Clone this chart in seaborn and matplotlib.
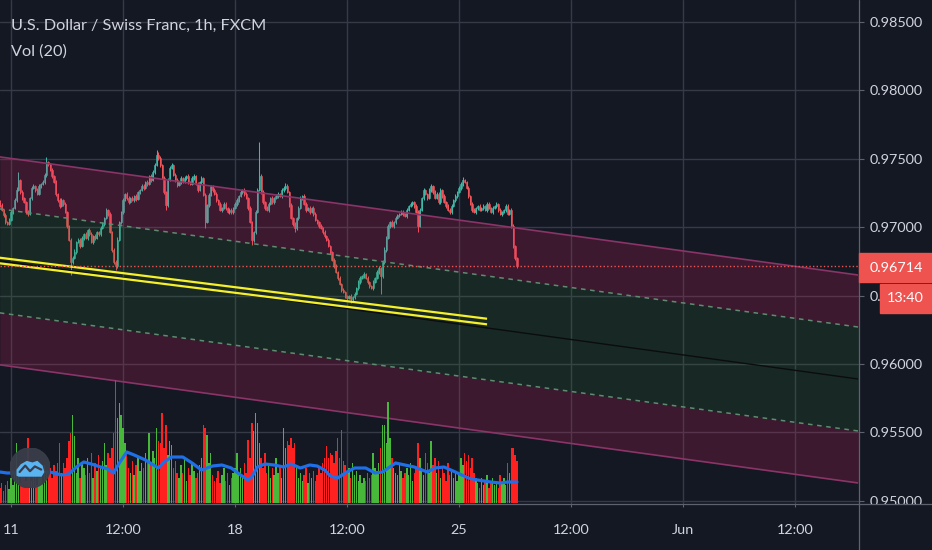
import numpy as np
import matplotlib
matplotlib.use("Agg")
import matplotlib.pyplot as plt
import seaborn as sns
from matplotlib.patches import Rectangle, Circle, Polygon

# ---- data (USD/CHF 1h, bar 0 = 11 May 00:00, trading hours only) ----
first_bar = -6
first_open = 97190  # price * 1e5

close_pts = [
    97162, 97126, 97089, 97038, 97024, 97053,
    97111, 97141, 97199, 97272, 97345, 97257, 97214, 97184, 97111, 97097,
    97214, 97287, 97301, 97272, 97243, 97301, 97316, 97331, 97382, 97477,
    97462, 97418, 97374, 97331, 97243, 97199, 97155, 97199, 97170, 97111,
    97009, 96907, 96746, 96775, 96819, 96892, 96907, 96863, 96921, 96950,
    96921, 96980, 96950, 96892, 96936, 96921, 96965, 96950, 96994, 97024,
    97067, 97126, 97097, 96965, 96833, 96746, 96717, 96907, 97038, 97111,
    97199, 97243, 97214, 97184, 97214, 97199, 97228, 97206, 97257, 97272,
    97301, 97287, 97331, 97316, 97374, 97345, 97404, 97455, 97528, 97506,
    97455, 97360, 97257, 97162, 97345, 97433, 97455, 97382, 97345, 97309,
    97331, 97360, 97331, 97360, 97374, 97331, 97316, 97360, 97374, 97316,
    97272, 97331, 97360, 97236, 97038, 97162, 97236, 97301, 97272, 97243,
    97199, 97170, 97126, 97141, 97170, 97141, 97111, 97126, 97111, 97141,
    97170, 97199, 97228, 97257, 97272, 97243, 97214, 97141, 97038, 96907,
    96965, 97111, 97272, 97374, 97257, 97184, 97141, 97126, 97170, 97214,
    97184, 97214, 97228, 97243, 97228, 97272, 97287, 97301, 97257, 97162,
    97067, 97024, 96994, 97067, 97141, 97214, 97228, 97170, 97126, 97141,
    97111, 97141, 97097, 97053, 97038, 97009, 96994, 96965, 96936, 96907,
    96863, 96819, 96760, 96717, 96673, 96629, 96585, 96541, 96526, 96497,
    96483, 96497, 96475, 96490, 96512, 96556, 96600, 96629, 96643, 96658,
    96629, 96600, 96570, 96556, 96600, 96629, 96673, 96702, 96643, 96746,
    96833, 96921, 97009, 97038, 97009, 97038, 97067, 97089, 97097, 97111,
    97097, 97082, 97126, 97155, 97170, 97184, 97155, 97111, 97009, 97126,
    97214, 97272, 97243, 97214, 97272, 97301, 97257, 97214, 97243, 97184,
    97272, 97228, 97184, 97155, 97126, 97111, 97155, 97199, 97228, 97257,
    97287, 97316, 97345, 97331, 97287, 97228, 97170, 97126, 97111, 97141,
    97155, 97126, 97141, 97155, 97126, 97170, 97141, 97111, 97141, 97155,
    97170, 97126, 97097, 97111, 97126, 97155, 97097, 97126, 97009, 96863, 96775, 96714,
]

# wick lengths above / below the body (price * 1e5)
wick_up = [
    10, 14, 8, 12, 6, 18,
    12, 9, 15, 20, 58, 10, 14, 8, 11, 16,
    9, 13, 18, 7, 12, 15, 10, 14, 12, 37,
    8, 11, 16, 9, 13, 10, 18, 12, 7, 14,
    10, 8, 15, 12, 20, 9, 11, 14, 16, 10,
    13, 8, 12, 18, 9, 14, 11, 7, 15, 12,
    10, 16, 9, 13, 8, 14, 12, 18, 10, 11,
    15, 9, 13, 12, 8, 16, 10, 14, 11, 9,
    13, 17, 8, 12, 10, 15, 11, 14, 37, 20,
    12, 9, 14, 10, 16, 11, 13, 8, 15, 12,
    10, 14, 9, 13, 11, 16, 8, 12, 15, 10,
    14, 9, 12, 10, 13, 8, 15, 11, 9, 14,
    12, 10, 16, 8, 13, 11, 9, 15, 12, 10,
    14, 11, 8, 13, 10, 16, 12, 9, 14, 11,
    10, 15, 13, 249, 18, 12, 9, 14, 11, 10,
    13, 8, 16, 12, 10, 14, 11, 22, 13, 9,
    12, 10, 14, 9, 15, 11, 8, 13, 12, 10,
    16, 9, 12, 14, 10, 8, 13, 11, 15, 9,
    12, 10, 8, 14, 11, 9, 13, 10, 12, 8,
    11, 9, 13, 10, 12, 8, 14, 11, 9, 12,
    10, 13, 9, 11, 14, 10, 12, 16, 9, 11,
    20, 15, 12, 10, 14, 9, 13, 11, 10, 12,
    14, 9, 12, 10, 13, 11, 9, 15, 12, 14,
    10, 13, 11, 9, 15, 12, 10, 14, 11, 13,
    12, 10, 14, 9, 13, 11, 12, 10, 15, 9,
    12, 14, 22, 11, 9, 13, 10, 12, 14, 10,
    11, 13, 9, 12, 10, 14, 11, 9, 13, 10,
    12, 10, 14, 11, 9, 13, 12, 10, 14, 11, 9, 8,
]
wick_dn = [
    12, 9, 14, 18, 10, 8,
    11, 14, 9, 12, 10, 15, 13, 8, 12, 16,
    10, 12, 9, 14, 11, 8, 13, 10, 15, 12,
    14, 9, 12, 10, 16, 11, 13, 9, 12, 10,
    13, 10, 95, 12, 9, 14, 11, 13, 10, 12,
    9, 14, 11, 10, 13, 12, 8, 15, 11, 10,
    12, 10, 14, 9, 11, 13, 30, 12, 10, 14,
    11, 9, 13, 12, 10, 8, 14, 11, 9, 13,
    10, 12, 9, 14, 11, 13, 10, 12, 9, 11,
    14, 10, 12, 37, 13, 9, 11, 10, 14, 12,
    9, 13, 11, 10, 12, 14, 9, 11, 13, 10,
    12, 10, 14, 11, 44, 9, 13, 10, 12, 11,
    13, 9, 11, 12, 10, 14, 9, 12, 11, 13,
    10, 12, 14, 9, 11, 13, 10, 12, 9, 37,
    12, 14, 10, 9, 13, 11, 12, 10, 14, 9,
    11, 13, 9, 12, 10, 14, 11, 13, 10, 12,
    9, 12, 30, 11, 13, 10, 12, 9, 14, 11,
    13, 10, 12, 9, 11, 14, 10, 13, 12, 9,
    11, 12, 10, 14, 9, 13, 11, 12, 10, 13,
    12, 9, 30, 11, 13, 10, 14, 12, 9, 11,
    10, 13, 12, 9, 14, 11, 10, 13, 130, 12,
    14, 11, 9, 12, 10, 13, 11, 9, 12, 10,
    12, 10, 13, 11, 9, 14, 12, 10, 44, 11,
    9, 12, 11, 13, 10, 12, 14, 9, 11, 13,
    11, 13, 10, 12, 9, 11, 13, 10, 12, 14,
    10, 12, 14, 9, 11, 13, 10, 12, 9, 11,
    13, 9, 11, 12, 10, 14, 11, 9, 12, 10,
    11, 13, 10, 12, 9, 14, 11, 10, 13, 18, 12, 10,
]

volume = [
    15, 20, 12, 18, 22, 14,
    25, 18, 30, 60, 35, 20, 28, 40, 22, 65,
    30, 22, 35, 28, 18, 25, 32, 20, 38, 30,
    30, 35, 25, 38, 32, 40, 60, 30, 40, 35,
    45, 62, 70, 88, 67, 30, 45, 25, 40, 35,
    28, 45, 30, 50, 25, 40, 32, 48, 35, 42,
    60, 38, 50, 45, 55, 70, 123, 85, 100, 88,
    75, 60, 48, 35, 30, 42, 28, 38, 45, 32,
    40, 35, 50, 42, 70, 38, 52, 45, 75, 62,
    60, 90, 55, 78, 48, 62, 58, 35, 42, 30,
    25, 38, 30, 45, 22, 35, 28, 40, 32, 25,
    30, 38, 45, 78, 75, 68, 40, 50, 28, 22,
    25, 32, 20, 28, 35, 22, 30, 18, 25, 30,
    35, 50, 28, 35, 25, 40, 30, 63, 45, 80,
    72, 90, 80, 60, 45, 35, 50, 30, 40, 25,
    35, 28, 45, 30, 38, 25, 75, 55, 62, 58,
    65, 55, 60, 35, 25, 30, 22, 28, 35, 20,
    30, 25, 32, 22, 28, 35, 30, 40, 45, 57,
    45, 50, 48, 40, 52, 65, 45, 73, 42, 38,
    30, 35, 25, 40, 28, 32, 22, 28, 20, 25,
    22, 30, 25, 28, 50, 35, 32, 40, 55, 78,
    78, 60, 101, 65, 45, 35, 30, 28, 40, 32,
    25, 30, 35, 28, 40, 22, 30, 35, 60, 45,
    35, 28, 50, 40, 30, 62, 38, 45, 30, 42,
    25, 35, 30, 22, 40, 28, 32, 25, 30, 22,
    28, 45, 38, 50, 42, 48, 35, 45, 30, 25,
    20, 15, 25, 18, 22, 28, 15, 20, 25, 18,
    22, 15, 28, 20, 25, 18, 40, 30, 55, 55, 48, 42,
]

# Vol (20) moving average, read at these bars
ma_bar = [-6, -2, 21, 27, 31, 35, 39, 43, 48, 52, 55, 58, 62, 66, 72, 79, 82, 86, 92, 97,
          102, 108, 113, 118, 123, 127, 129, 132, 136, 141, 146, 150, 155, 160, 164, 168,
          171, 175, 179, 184, 190, 195, 199, 206, 211, 216, 223, 227, 232, 238, 245, 250,
          257, 262, 266, 271]
ma_val = [31, 30, 31, 28, 29, 36, 41, 39, 36, 34, 30, 40, 51, 48, 43, 35, 41, 46, 46, 40,
          33, 37, 38, 35, 28, 23, 26, 36, 39, 38, 36, 39, 35, 38, 37, 33, 27, 25, 30, 35,
          35, 30, 31, 40, 38, 36, 31, 35, 36, 31, 25, 23, 21, 20, 21, 21]

# regression channel (mid line + deviations)
chan_bar = [-6, 454]
chan_mid = [0.96754, 0.95890]
dev_inner = 0.0038
dev_outer = 0.0076

# hand drawn double trend line
trend_bar = [-6, 255]
trend_upper = [0.96777, 0.96331]
trend_lower = [0.96736, 0.96290]

last_price = 0.96714
countdown = "13:40"

price_ticks = [0.950, 0.955, 0.960, 0.965, 0.970, 0.975, 0.980, 0.985]
time_tick_bars = [0, 60, 120, 180, 240, 300, 360, 420]
time_tick_labels = ["11", "12:00", "18", "12:00", "25", "12:00", "Jun", "12:00"]

title = "U.S. Dollar / Swiss Franc, 1h, FXCM"
vol_title = "Vol (20)"

assert len(close_pts) == len(wick_up) == len(wick_dn) == len(volume)

# ---- build OHLC ----
close = np.array(close_pts) / 1e5
opn = np.concatenate([[first_open / 1e5], close[:-1]])
high = np.maximum(opn, close) + np.array(wick_up) / 1e5
low = np.minimum(opn, close) - np.array(wick_dn) / 1e5
bars = np.arange(first_bar, first_bar + len(close))
is_up = close >= opn

# ---- style ----
bg = "#141823"
grid_c = "#363a47"
text_c = "#d1d4dc"
sns.set_theme(style="dark", rc={
    "axes.facecolor": bg, "figure.facecolor": bg, "savefig.facecolor": bg,
    "axes.edgecolor": bg, "text.color": text_c,
    "xtick.color": text_c, "ytick.color": text_c,
})
plt.rcParams["font.family"] = ["Lato", "DejaVu Sans"]
fs = 10.4

W, H = 932, 550
fig = plt.figure(figsize=(W / 100, H / 100), dpi=100)
ax = fig.add_axes([0, 47 / H, 858 / W, 503 / H])
vax = ax.twinx()

ax.set_xlim(-5.89, 453.7)
ax.set_ylim(0.94984, 0.98661)
ax.grid(True, color=grid_c, lw=1.0)
ax.set_axisbelow(True)
for s in ax.spines.values():
    s.set_visible(False)

# candles
up_c, dn_c = "#3eb8a8", "#f0555a"
cols = np.where(is_up, up_c, dn_c)
ax.vlines(bars, low, high, colors=cols, lw=0.75, zorder=2)
ax.bar(bars, np.abs(close - opn), bottom=np.minimum(opn, close), width=0.66,
       color=cols, edgecolor=cols, lw=0.4, zorder=2.1)

# channel fills + lines
mid = np.array(chan_mid)
ax.fill_between(chan_bar, mid + dev_inner, mid + dev_outer, color="#e91e63", alpha=0.19, lw=0, zorder=3)
ax.fill_between(chan_bar, mid - dev_outer, mid - dev_inner, color="#e91e63", alpha=0.19, lw=0, zorder=3)
ax.fill_between(chan_bar, mid - dev_inner, mid + dev_inner, color="#2e7d32", alpha=0.17, lw=0, zorder=3)
sns.lineplot(x=chan_bar, y=mid + dev_outer, ax=ax, color="#8a3468", lw=1.2, zorder=3.5)
sns.lineplot(x=chan_bar, y=mid - dev_outer, ax=ax, color="#8a3468", lw=1.2, zorder=3.5)
ax.plot(chan_bar, mid + dev_inner, color="#5f8c70", lw=1.1, ls=(0, (3, 3)), zorder=3.5)
ax.plot(chan_bar, mid - dev_inner, color="#5f8c70", lw=1.1, ls=(0, (3, 3)), zorder=3.5)
ax.plot(chan_bar, mid, color="#0b0c0e", lw=1.0, zorder=3.5)

# yellow trend line pair
ax.plot(trend_bar, trend_upper, color="#f6f02a", lw=1.6, solid_capstyle="butt", zorder=4)
ax.plot(trend_bar, trend_lower, color="#f6f02a", lw=1.6, solid_capstyle="butt", zorder=4)

# last price dotted line
ax.axhline(last_price, color="#ef5350", lw=1.0, ls=(0, (1, 1.6)), zorder=4.5)

# axes ticks (after twinx, which moves ticks to the left)
ax.yaxis.tick_right()
ax.set_yticks(price_ticks)
ax.set_yticklabels([f"{p:.5f}" for p in price_ticks])
ax.tick_params(axis="y", which="both", left=False, right=True, labelleft=False,
               labelright=True, length=4, width=0.8, color="#5d6170",
               pad=4.5, labelsize=fs, labelcolor=text_c)
ax.set_xticks(time_tick_bars)
ax.set_xticklabels(time_tick_labels)
ax.tick_params(axis="x", bottom=True, length=3, width=0.8, color="#5d6170",
               pad=12, labelsize=fs, labelcolor=text_c)

# volume pane
vax.set_ylim(0, max(volume) * 4.09)
vax.axis("off")
vcols = np.where(is_up, "#48b83a", "#ff2020")
vax.bar(bars, volume, width=0.78, color=vcols, lw=0, zorder=2)
sns.lineplot(x=ma_bar, y=ma_val, ax=vax, color="#1f6fe8", lw=2.3, zorder=3)
vax.set_xlim(ax.get_xlim())

# price scale overlay: hide under time axis, separators
fig.patches.append(Rectangle((859 / W, 0), 73 / W, 45 / H, transform=fig.transFigure,
                             color=bg, zorder=1))
fig.lines.append(plt.Line2D([0, 1], [46 / H, 46 / H], transform=fig.transFigure,
                            color="#5d6170", lw=0.9, zorder=2))
fig.lines.append(plt.Line2D([858.5 / W, 858.5 / W], [0, 1], transform=fig.transFigure,
                            color="#5d6170", lw=0.9, zorder=2))

# last price label and countdown
fig.patches.append(Rectangle((859 / W, 1 - 282 / H), 73 / W, 29 / H, transform=fig.transFigure,
                             color="#ef5350", zorder=3))
fig.text(870 / W, 1 - 267.5 / H, f"{last_price:.5f}", color="white", fontsize=fs,
         va="center", ha="left", zorder=4)
fig.patches.append(Rectangle((880 / W, 1 - 313 / H), 51 / W, 29 / H, transform=fig.transFigure,
                             color="#ef5350", zorder=3))
fig.text(905.5 / W, 1 - 298.5 / H, countdown, color="white", fontsize=fs,
         va="center", ha="center", zorder=4)

# legend texts
fig.text(11 / W, 1 - 26 / H, title, color=text_c, fontsize=11.7, va="center", ha="left")
fig.text(11 / W, 1 - 52 / H, vol_title, color=text_c, fontsize=11.7, va="center", ha="left")

# logo badge
lax = fig.add_axes([10 / W, 1 - 488 / H, 40 / W, 40 / H])
lax.set_xlim(0, 1)
lax.set_ylim(0, 1)
lax.set_aspect("equal")
lax.axis("off")
lax.add_patch(Circle((0.5, 0.5), 0.5, color="#3a3e4b", alpha=0.95))
lax.add_patch(Polygon([(0.18, 0.32), (0.18, 0.45), (0.28, 0.58), (0.42, 0.66), (0.56, 0.62),
                       (0.68, 0.66), (0.80, 0.55), (0.84, 0.40), (0.78, 0.30), (0.22, 0.30)],
                      closed=True, color="#5ab4f2"))
lax.plot([0.24, 0.38, 0.50, 0.62, 0.78], [0.40, 0.56, 0.42, 0.54, 0.46], color="#3a3e4b", lw=1.6)

fig.savefig("out.png", dpi=100)
